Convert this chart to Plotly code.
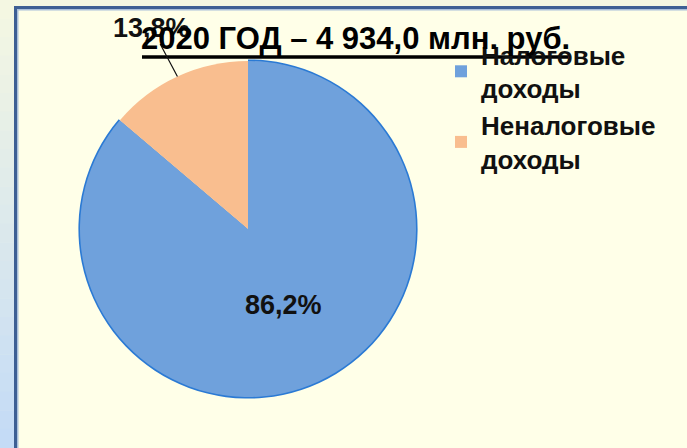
import math
import plotly.graph_objects as go

# ---- data ----
categories = ["Налоговые<br>доходы", "Неналоговые<br>доходы"]
shares = [86.2, 13.8]
share_labels = ["86,2%", "13,8%"]
title_text = "2020 ГОД – 4 934,0 млн. руб."

# ---- style / geometry ----
W, H = 687, 448
FONT = "Liberation Sans, Arial, sans-serif"
slice_colors = ["#6FA1DC", "#F9BE8F"]
outline_colors = ["#2B7AD4", "rgba(0,0,0,0)"]
CX, CY, R = 248, 229, 168  # pixel geometry of pie
RO = R + 1.6               # outline ring radius


def domain(rad):
    return dict(x=[(CX - rad) / W, (CX + rad) / W],
                y=[1 - (CY + rad) / H, 1 - (CY - rad) / H])


fig = go.Figure()
# outline ring (arc only) underneath
fig.add_trace(go.Pie(
    labels=categories, values=shares, sort=False, direction="clockwise", rotation=0,
    marker=dict(colors=outline_colors, line=dict(width=0)),
    textinfo="none", hoverinfo="skip", domain=domain(RO), showlegend=False,
))
fig.add_trace(go.Pie(
    labels=categories, values=shares, sort=False, direction="clockwise", rotation=0,
    marker=dict(colors=slice_colors, line=dict(width=0)),
    textinfo="none", hoverinfo="label+percent", domain=domain(R), showlegend=True,
))

# label positions computed from values
total = sum(shares)
cum = 0
annotations = []
for i, v in enumerate(shares):
    mid = (cum + v / 2) / total * 2 * math.pi
    cum += v
    if i == 0:
        px = CX + 0.5 * R * math.sin(mid)
        py = CY - 0.5 * R * math.cos(mid)
        annotations.append(dict(
            x=px / W, y=1 - py / H, xref="paper", yref="paper",
            xanchor="center", yanchor="middle",
            text="<b>%s</b>" % share_labels[i], showarrow=False,
            font=dict(family=FONT, size=27, color="#111111"),
        ))
    else:
        ex = CX + R * math.sin(mid)
        ey = CY - R * math.cos(mid)
        annotations.append(dict(
            x=ex / W, y=1 - ey / H, xref="paper", yref="paper",
            text="<b>%s</b>" % share_labels[i], showarrow=True,
            arrowhead=0, arrowwidth=1.2, arrowcolor="#111111",
            ax=-26, ay=-49, standoff=0, startstandoff=0,
            font=dict(family=FONT, size=27, color="#111111"),
        ))

# title
annotations.append(dict(
    x=355 / W, y=1 - 38 / H, xref="paper", yref="paper",
    text="<b>%s</b>" % title_text, showarrow=False,
    font=dict(family=FONT, size=31, color="#000000"),
    xanchor="center", yanchor="middle",
))

# frame shapes
shapes = []
outer = "#F4F7E2"
shapes.append(dict(type="rect", xref="paper", yref="paper", x0=0, x1=1, y0=1 - 7 / H, y1=1,
                   fillcolor=outer, line=dict(width=0), layer="below"))
n = 24
c0 = (0xF4, 0xF7, 0xE2)
c1 = (0xC4, 0xDB, 0xF6)
for k in range(n):
    t = k / (n - 1)
    c = tuple(round(c0[j] + (c1[j] - c0[j]) * t) for j in range(3))
    shapes.append(dict(type="rect", xref="paper", yref="paper",
                       x0=0, x1=14 / W, y0=1 - (k + 1) / n, y1=1 - k / n + 0.001,
                       fillcolor="rgb(%d,%d,%d)" % c, line=dict(width=0), layer="below"))
# dark blue border
shapes.append(dict(type="rect", xref="paper", yref="paper", x0=14 / W, x1=17 / W, y0=0, y1=1 - 6 / H,
                   fillcolor="#3D5F94", line=dict(width=0), layer="below"))
shapes.append(dict(type="rect", xref="paper", yref="paper", x0=14 / W, x1=1, y0=1 - 9 / H, y1=1 - 6 / H,
                   fillcolor="#3D5F94", line=dict(width=0), layer="below"))
shapes.append(dict(type="rect", xref="paper", yref="paper", x0=17 / W, x1=18.5 / W, y0=0, y1=1 - 9 / H,
                   fillcolor="#A9BFDA", line=dict(width=0), layer="below"))
shapes.append(dict(type="rect", xref="paper", yref="paper", x0=17 / W, x1=1, y0=1 - 10.5 / H, y1=1 - 9 / H,
                   fillcolor="#A9BFDA", line=dict(width=0), layer="below"))
# title underline
shapes.append(dict(type="line", xref="paper", yref="paper", x0=142 / W, x1=568 / W,
                   y0=1 - 57 / H, y1=1 - 57 / H, line=dict(color="#000000", width=3.5), layer="above"))

fig.update_layout(
    width=W, height=H,
    margin=dict(l=0, r=0, t=0, b=0),
    paper_bgcolor="#FFFFE8",
    plot_bgcolor="#FFFFE8",
    annotations=annotations,
    shapes=shapes,
    legend=dict(
        x=441 / W, y=1 - 31 / H, xanchor="left", yanchor="top",
        font=dict(family=FONT, size=26, color="#111111", weight="bold"),
        bgcolor="rgba(0,0,0,0)", itemclick=False, itemdoubleclick=False,
        valign="middle",
    ),
)

fig.write_html("out.html", config={"displayModeBar": False},
               post_script="document.body.style.margin='0';")
